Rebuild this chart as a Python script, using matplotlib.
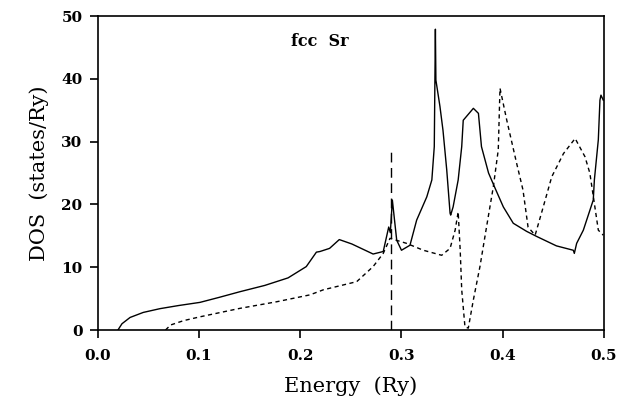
import numpy as np
import matplotlib.pyplot as plt

# solid curve (total DOS)
e_solid = [0.020, 0.024, 0.032, 0.045, 0.0615, 0.080, 0.101, 0.120, 0.1405, 0.165, 0.188,
           0.206, 0.216, 0.2195, 0.229,
           0.2386, 0.251, 0.272, 0.282, 0.2874, 0.289, 0.291, 0.2953, 0.300, 0.3084,
           0.315, 0.325, 0.330, 0.3324, 0.3335, 0.334, 0.338, 0.341, 0.3447, 0.348,
           0.3486, 0.351, 0.356, 0.3595, 0.361, 0.371, 0.376, 0.379, 0.386, 0.3924,
           0.4006, 0.4104, 0.4237, 0.4335, 0.453, 0.4697, 0.4707, 0.473, 0.4796,
           0.4894, 0.4905, 0.4944, 0.496, 0.497, 0.4993]
d_solid = [0.0, 1.0, 2.0, 2.8, 3.4, 3.9, 4.4, 5.2, 6.1, 7.1, 8.3,
           10.1, 12.4, 12.5, 13.0,
           14.4, 13.7, 12.1, 12.5, 16.4, 15.5, 20.7, 14.3, 12.7, 13.5,
           17.5, 21.2, 23.9, 29.2, 47.9, 39.8, 35.6, 31.8, 25.5, 18.6,
           18.3, 19.6, 23.9, 29.2, 33.4, 35.3, 34.5, 29.2, 25.0, 22.6,
           19.6, 17.0, 15.7, 14.9, 13.4, 12.7, 12.2, 13.8, 15.9,
           20.7, 23.9, 30.3, 36.6, 37.4, 36.6]

# dashed curve
e_dash = [0.067, 0.072, 0.085, 0.101, 0.1405, 0.1768, 0.2097, 0.2228, 0.2558, 0.272, 0.282, 0.2887,
          0.305, 0.3216, 0.3397, 0.348, 0.353, 0.356, 0.358, 0.3595, 0.3627, 0.366,
          0.371, 0.3775, 0.384, 0.3907, 0.3956, 0.3973, 0.404, 0.4138, 0.420, 0.425,
          0.432, 0.440, 0.4484, 0.460, 0.4715, 0.4812, 0.486, 0.491, 0.4944, 0.4993]
d_dash = [0.0, 0.8, 1.5, 2.1, 3.45, 4.5, 5.6, 6.4, 7.7, 10.1, 12.2, 14.6,
          13.8, 12.7, 11.9, 13.0, 15.9, 18.8, 12.7, 6.4, 0.5, 0.3,
          4.8, 10.1, 16.4, 22.8, 28.7, 38.5, 33.4, 26.5, 22.3, 16.4,
          15.1, 19.6, 24.4, 28.1, 30.5, 27.6, 25.0, 19.6, 15.9, 15.1]

e_fermi = 0.290
d_fermi_top = 28.7

fig = plt.figure(figsize=(6.31, 4.16), dpi=100)
ax = fig.add_axes([0.1548, 0.2067, 0.9572 - 0.1548, 0.9615 - 0.2067])

ax.plot(e_solid, d_solid, color='black', lw=1.0)
ax.plot(e_dash, d_dash, color='black', lw=1.0, linestyle=(0, (3, 2.5)))
ax.plot([e_fermi, e_fermi], [0, d_fermi_top], color='black', lw=1.0,
        linestyle=(0, (7, 4)))

ax.text(0.2195, 46.0, 'fcc  Sr', fontsize=11.5, fontweight='bold',
        family='DejaVu Serif', ha='center', va='center')

ax.set_xlim(0, 0.5)
ax.set_ylim(0, 50)
ax.set_xticks([0.0, 0.1, 0.2, 0.3, 0.4, 0.5])
ax.set_xticklabels(['0.0', '0.1', '0.2', '0.3', '0.4', '0.5'])
ax.set_yticks([0, 10, 20, 30, 40, 50])

for s in ax.spines.values():
    s.set_linewidth(1.2)
ax.tick_params(direction='out', length=6, width=1.2)
ax.tick_params(axis='x', pad=8)
ax.tick_params(axis='y', pad=5)
for lab in ax.get_xticklabels() + ax.get_yticklabels():
    lab.set_family('DejaVu Serif')
    lab.set_fontweight('bold')
    lab.set_fontsize(11)

ax.set_xlabel('Energy  (Ry)', family='DejaVu Serif', fontsize=15, labelpad=9)
ax.set_ylabel('DOS  (states/Ry)', family='DejaVu Serif', fontsize=15, labelpad=9)

fig.savefig('out.png', dpi=100)
